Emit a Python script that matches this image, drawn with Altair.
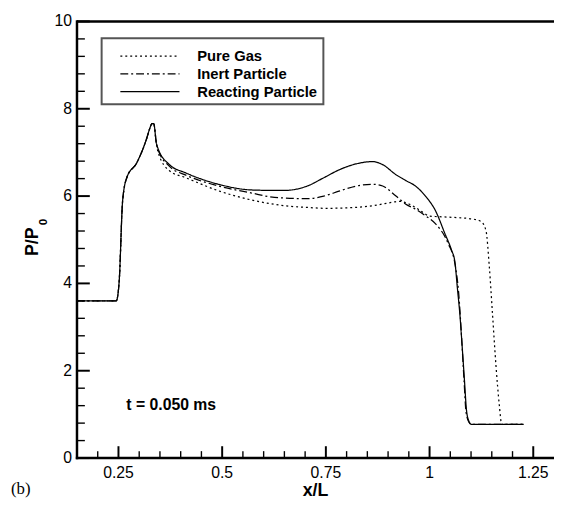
import altair as alt
import pandas as pd

# ---------------- data ----------------
series_names = ["Pure Gas", "Inert Particle", "Reacting Particle"]

x_pure = [0.15, 0.245, 0.2465, 0.252, 0.260, 0.270, 0.294, 0.318, 0.3255, 0.331, 0.335, 0.3414,
          0.345, 0.373, 0.4126, 0.4916, 0.571, 0.650, 0.705, 0.750, 0.800, 0.863, 0.900, 0.927,
          0.950, 0.966, 0.985, 1.000, 1.020, 1.060, 1.100, 1.124, 1.136, 1.144, 1.152, 1.160,
          1.168, 1.174, 1.227]
y_pure = [3.6, 3.6, 3.63, 4.09, 5.89, 6.42, 6.76, 7.32, 7.55, 7.66, 7.66, 7.21,
          7.02, 6.58, 6.42, 6.12, 5.91, 5.78, 5.74, 5.72, 5.73, 5.78, 5.84, 5.88,
          5.82, 5.74, 5.62, 5.54, 5.53, 5.51, 5.48, 5.42, 5.21, 4.39, 3.26, 2.13,
          1.23, 0.77, 0.77]

x_inert = [0.15, 0.245, 0.2465, 0.252, 0.260, 0.270, 0.294, 0.318, 0.3255, 0.331, 0.335, 0.3414,
           0.345, 0.373, 0.4126, 0.4916, 0.571, 0.626, 0.705, 0.745, 0.784, 0.824, 0.863, 0.887,
           0.919, 0.942, 0.966, 0.990, 1.014, 1.045, 1.061, 1.070, 1.077, 1.083, 1.088, 1.095,
           1.101, 1.227]
y_inert = [3.6, 3.6, 3.63, 4.09, 5.89, 6.42, 6.76, 7.32, 7.55, 7.66, 7.66, 7.21,
           7.07, 6.68, 6.48, 6.23, 6.07, 5.97, 5.94, 6.00, 6.12, 6.23, 6.27, 6.23,
           6.00, 5.82, 5.70, 5.55, 5.37, 4.91, 4.46, 3.8, 2.8, 1.8, 1.05, 0.82,
           0.77, 0.77]

x_react = [0.15, 0.245, 0.2465, 0.252, 0.260, 0.270, 0.294, 0.318, 0.3255, 0.331, 0.335, 0.3414,
           0.345, 0.373, 0.4126, 0.4916, 0.571, 0.626, 0.650, 0.705, 0.745, 0.784, 0.824, 0.863,
           0.887, 0.919, 0.942, 0.966, 0.990, 1.014, 1.037, 1.053, 1.061, 1.067, 1.073, 1.079,
           1.084, 1.089, 1.095, 1.101, 1.227]
y_react = [3.6, 3.6, 3.63, 4.09, 5.89, 6.42, 6.76, 7.32, 7.55, 7.66, 7.66, 7.21,
           7.10, 6.72, 6.53, 6.27, 6.14, 6.13, 6.13, 6.23, 6.42, 6.61, 6.74, 6.79,
           6.72, 6.49, 6.36, 6.23, 6.00, 5.67, 5.14, 4.76, 4.50, 3.9, 3.3, 2.5,
           1.8, 1.1, 0.84, 0.77, 0.77]

x_major_ticks = [0.25, 0.5, 0.75, 1.0, 1.25]
x_tick_labels = ["0.25", "0.5", "0.75", "1", "1.25"]
x_minor_ticks = [0.2, 0.3, 0.35, 0.4, 0.45, 0.55, 0.6, 0.65, 0.7, 0.8, 0.85, 0.9, 0.95,
                 1.05, 1.1, 1.15, 1.2]
y_major_ticks = [0, 2, 4, 6, 8, 10]
y_tick_labels = ["0", "2", "4", "6", "8", "10"]
y_minor_ticks = [0.4, 0.8, 1.2, 1.6, 2.4, 2.8, 3.2, 3.6, 4.4, 4.8, 5.2, 5.6,
                 6.4, 6.8, 7.2, 7.6, 8.4, 8.8, 9.2, 9.6]

x_title = ["x/L"]
y_title_main = ["P/P"]
y_title_sub = ["0"]
annotation_text = ["t = 0.050 ms"]
annotation_x = [0.269]
annotation_y = [1.22]
panel_label = ["(b)"]

# ---------------- build ----------------
W, H = 484, 443
FONT = "Liberation Sans"
X_DOMAIN = [0.15, 1.3]
Y_DOMAIN = [0, 10]

frames = []
for name, xs, ys in [(series_names[0], x_pure, y_pure),
                     (series_names[1], x_inert, y_inert),
                     (series_names[2], x_react, y_react)]:
    frames.append(pd.DataFrame({"series": name, "x": xs, "y": ys, "order": range(len(xs))}))
df = pd.concat(frames, ignore_index=True)

x_scale = alt.Scale(domain=X_DOMAIN, nice=False, zero=False)
y_scale = alt.Scale(domain=Y_DOMAIN, nice=False, zero=False)
dash_scale = alt.Scale(domain=series_names, range=[[2, 3], [8, 3, 2, 3], [1, 0]])

lines = alt.Chart(df).mark_line(color="black", strokeWidth=1.25, interpolate="monotone", clip=True).encode(
    x=alt.X("x:Q", scale=x_scale, axis=None),
    y=alt.Y("y:Q", scale=y_scale, axis=None),
    strokeDash=alt.StrokeDash("series:N", scale=dash_scale, legend=None),
    order="order:Q",
)

# inward tick marks (positions mapped with the same linear scale domains)
px_expr = f"(datum.tx - {X_DOMAIN[0]}) / ({X_DOMAIN[1]} - {X_DOMAIN[0]}) * {W}"
py_expr = f"{H} - (datum.ty - {Y_DOMAIN[0]}) / ({Y_DOMAIN[1]} - {Y_DOMAIN[0]}) * {H}"


def xticks(values, length, width):
    return alt.Chart(pd.DataFrame({"tx": values})).transform_calculate(px=px_expr).mark_rule(
        color="black", strokeWidth=width).encode(
        x=alt.X("px:Q", scale=None, axis=None), y=alt.value(H), y2=alt.value(H - length))


def yticks(values, length, width):
    return alt.Chart(pd.DataFrame({"ty": values})).transform_calculate(py=py_expr).mark_rule(
        color="black", strokeWidth=width).encode(
        y=alt.Y("py:Q", scale=None, axis=None), x=alt.value(0), x2=alt.value(length))


xmaj = xticks(x_major_ticks, 12, 2)
xmin = xticks(x_minor_ticks, 7, 1.4)
ymaj = yticks(y_major_ticks, 13, 2)
ymin = yticks(y_minor_ticks, 8, 1.4)

# tick labels through the scales
xlab = alt.Chart(pd.DataFrame({"tx": x_major_ticks, "lab": x_tick_labels})).mark_text(
    align="center", baseline="middle", font=FONT, fontSize=16, color="black").encode(
    x=alt.X("tx:Q", scale=x_scale, axis=None), y=alt.value(H + 15), text="lab:N")
ylab = alt.Chart(pd.DataFrame({"ty": y_major_ticks, "lab": y_tick_labels})).mark_text(
    align="right", baseline="middle", font=FONT, fontSize=16, color="black").encode(
    y=alt.Y("ty:Q", scale=y_scale, axis=None), x=alt.value(-5), text="lab:N")

one = pd.DataFrame({"k": [0]})
frame_top = alt.Chart(one).mark_rule(color="black", strokeWidth=2.5).encode(
    x=alt.value(0), x2=alt.value(W + 10), y=alt.value(0))
frame_bottom = alt.Chart(one).mark_rule(color="black", strokeWidth=2.5).encode(
    x=alt.value(-1.2), x2=alt.value(W + 10), y=alt.value(H))
frame_left = alt.Chart(one).mark_rule(color="black", strokeWidth=2.5).encode(
    x=alt.value(0), y=alt.value(-1.2), y2=alt.value(H + 1.2))

legend_box = alt.Chart(one).mark_rect(fill="white", stroke="#555555", strokeWidth=2).encode(
    x=alt.value(25), x2=alt.value(250), y=alt.value(17), y2=alt.value(84))

leg_df = pd.DataFrame({"series": series_names, "row": [0, 1, 2]})
leg_base = alt.Chart(leg_df).transform_calculate(py="35.3 + datum.row * 18")
leg_lines = leg_base.mark_rule(color="black", strokeWidth=1.25).encode(
    x=alt.value(44), x2=alt.value(104),
    y=alt.Y("py:Q", scale=None, axis=None),
    strokeDash=alt.StrokeDash("series:N", scale=dash_scale, legend=None))
leg_text = leg_base.mark_text(align="left", baseline="middle", font=FONT, fontSize=15,
                              fontWeight="bold", color="black").encode(
    x=alt.value(122), y=alt.Y("py:Q", scale=None, axis=None), text="series:N")

ann = alt.Chart(pd.DataFrame({"ax": annotation_x, "ay": annotation_y, "t": annotation_text})).mark_text(
    align="left", baseline="middle", font=FONT, fontSize=16, fontWeight="bold", color="black").encode(
    x=alt.X("ax:Q", scale=x_scale, axis=None), y=alt.Y("ay:Q", scale=y_scale, axis=None), text="t:N")

blabel = alt.Chart(pd.DataFrame({"t": panel_label})).mark_text(
    align="left", baseline="middle", font="Liberation Serif", fontSize=17, color="black").encode(
    x=alt.value(-67), y=alt.value(474), text="t:N")

xtitle = alt.Chart(pd.DataFrame({"t": x_title})).mark_text(
    align="center", baseline="middle", font=FONT, fontSize=18, fontWeight="bold", color="black").encode(
    x=alt.value(W / 2), y=alt.value(H + 34), text="t:N")

ytitle = alt.Chart(pd.DataFrame({"t": y_title_main})).mark_text(
    align="center", baseline="middle", angle=270, font=FONT, fontSize=18, fontWeight="bold",
    color="black").encode(x=alt.value(-44.5), y=alt.value(223.5), text="t:N")
ysub = alt.Chart(pd.DataFrame({"t": y_title_sub})).mark_text(
    align="center", baseline="middle", angle=270, font=FONT, fontSize=12, fontWeight="bold",
    color="black").encode(x=alt.value(-34), y=alt.value(203.5), text="t:N")

chart = alt.layer(
    legend_box, lines, xmin, xmaj, ymin, ymaj, frame_top, frame_bottom, frame_left,
    xlab, ylab, leg_lines, leg_text, ann, blabel, xtitle, ytitle, ysub
).properties(
    width=W, height=H,
    autosize=alt.AutoSizeParams(type="none"),
    padding={"left": 70, "top": 10, "right": 0, "bottom": 44},
).configure_view(stroke=None)

chart.save("out.html", embed_options={"renderer": "svg", "actions": False})
